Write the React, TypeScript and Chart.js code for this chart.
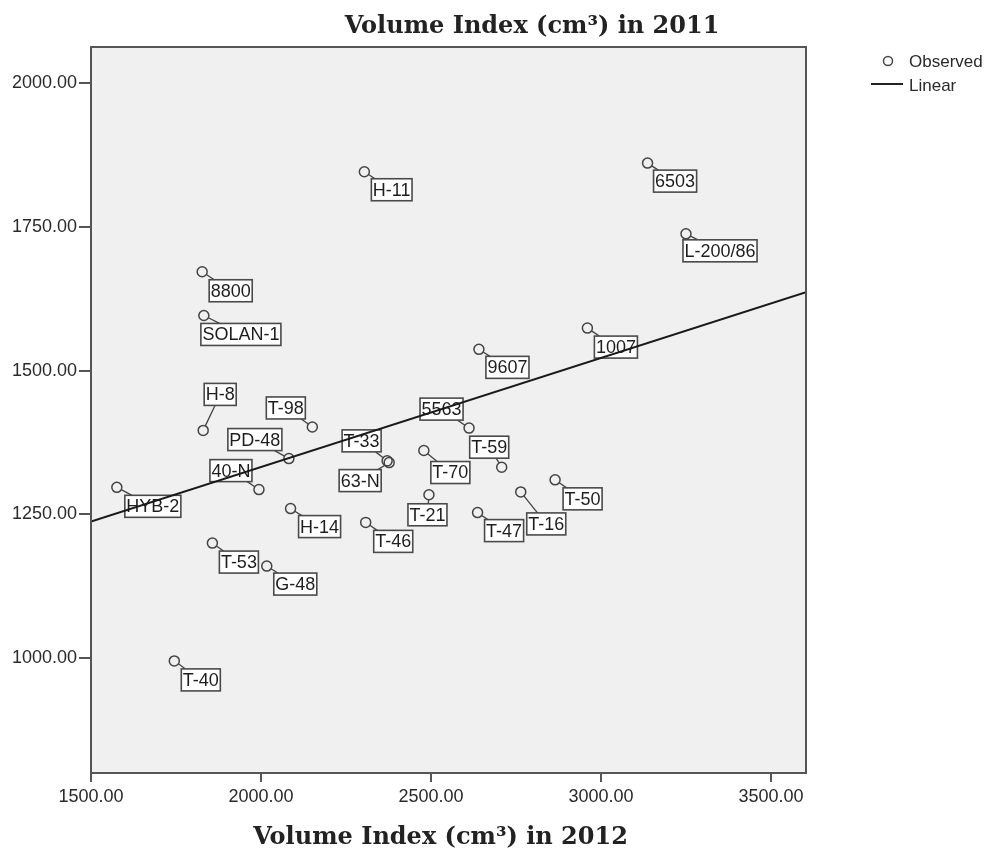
import React, { useEffect, useRef } from 'react';
import { Chart, registerables } from 'chart.js';

Chart.register(...registerables);

// ---- data ----
const varieties = [
  'H-11', '6503', 'L-200/86', '8800', 'SOLAN-1', '1007', '9607', 'H-8', 'T-98', 'PD-48',
  '40-N', 'HYB-2', 'T-33', '63-N', 'T-70', '5563', 'T-59', 'T-21', 'T-46', 'T-47',
  'T-16', 'T-50', 'H-14', 'T-53', 'G-48', 'T-40',
];
const volume2012 = [
  2304, 3137, 3250, 1827, 1832, 2960, 2641, 1830, 2151, 2082,
  1994, 1576, 2371, 2377, 2479, 2612, 2708, 2494, 2308, 2637,
  2764, 2865, 2087, 1857, 2017, 1745,
];
const volume2011 = [
  1846, 1861, 1738, 1672, 1596, 1574, 1537, 1396, 1402, 1347,
  1293, 1297, 1343, 1340, 1361, 1400, 1332, 1284, 1236, 1253,
  1289, 1310, 1260, 1200, 1160, 995,
];
// fitted linear line (ends)
const linearX = [1500, 3603];
const linearY = [1237.6, 1636.5];

const xTicks = [1500, 2000, 2500, 3000, 3500];
const yTicks = [1000, 1250, 1500, 1750, 2000];
const xRange = [1500, 3603];
const yRange = [800, 2063];

const xTitle = 'Volume Index (cm\u00B3) in 2012';
const yTitle = 'Volume Index (cm\u00B3) in 2011';
const legendLabels = ['Observed', 'Linear'];

// label box placement relative to its point: [dx, dy, dxIsRightEdge]
const labelPlacement: [number, number, boolean][] = [
  [7, 7, false], [6, 7, false], [-3, 6, false], [7, 8, false], [-3, 8, false],
  [7, 8, false], [7, 7, false], [1, -47, false], [-7, -30, true], [-7, -30, true],
  [-7, -30, true], [8, 8, false], [-6, -31, true], [-8, 7, true], [7, 11, false],
  [-6, -30, true], [7, -31, true], [-21, 9, false], [8, 8, false], [7, 7, false],
  [6, 21, false], [8, 8, false], [8, 7, false], [7, 8, false], [7, 7, false],
  [7, 8, false],
];

const sans = '"Liberation Sans", Arial, sans-serif';
const serif = '"DejaVu Serif", serif';

const decorPlugin = {
  id: 'spssDecor',
  beforeDraw(chart: any) {
    const { ctx, chartArea: a } = chart;
    ctx.save();
    ctx.fillStyle = '#f0f0f0';
    ctx.fillRect(a.left, a.top, a.right - a.left, a.bottom - a.top);
    ctx.restore();
  },
  afterDatasetDraw(chart: any, args: any) {
    if (args.index !== 1) return;
    const { ctx } = chart;
    const meta = chart.getDatasetMeta(1);
    ctx.save();
    ctx.font = `18px ${sans}`;
    meta.data.forEach((el: any, i: number) => {
      const px = el.x;
      const py = el.y;
      const text = varieties[i];
      const tw = ctx.measureText(text).width;
      const w = tw + 3;
      const h = 22;
      const [dx, dy, right] = labelPlacement[i];
      const left = right ? px + dx - w : px + dx;
      const top = py + dy;
      const cx = left + w / 2;
      const cy = top + h / 2;
      const vx = cx - px;
      const vy = cy - py;
      const tx = vx !== 0 ? ((vx > 0 ? left : left + w) - px) / vx : -Infinity;
      const ty = vy !== 0 ? ((vy > 0 ? top : top + h) - py) / vy : -Infinity;
      const t = Math.max(tx, ty);
      const len = Math.hypot(vx, vy);
      const r = 5;
      if (t > 0 && t * len > r + 0.5) {
        ctx.beginPath();
        ctx.moveTo(px + (vx / len) * r, py + (vy / len) * r);
        ctx.lineTo(px + vx * t, py + vy * t);
        ctx.strokeStyle = '#444';
        ctx.lineWidth = 1.3;
        ctx.stroke();
      }
      ctx.fillStyle = '#ffffff';
      ctx.fillRect(left, top, w, h);
      ctx.strokeStyle = '#4a4a4a';
      ctx.lineWidth = 1.6;
      ctx.strokeRect(left, top, w, h);
      ctx.fillStyle = '#1e1e1e';
      ctx.textAlign = 'left';
      ctx.textBaseline = 'middle';
      ctx.fillText(text, left + 1.5, top + h / 2 + 1);
    });
    ctx.restore();
  },
  afterDraw(chart: any) {
    const { ctx, chartArea: a } = chart;
    ctx.save();
    // frame
    ctx.strokeStyle = '#555';
    ctx.lineWidth = 2;
    ctx.strokeRect(a.left, a.top, a.right - a.left, a.bottom - a.top);
    // titles
    ctx.fillStyle = '#222';
    ctx.font = `bold 24px ${serif}`;
    ctx.textAlign = 'center';
    ctx.textBaseline = 'alphabetic';
    ctx.fillText(yTitle, a.left + 441, 33);
    ctx.fillText(xTitle, (a.left + a.right) / 2 - 8, 844);
    // legend
    ctx.font = `17px ${sans}`;
    ctx.textAlign = 'left';
    ctx.fillStyle = '#2a2a2a';
    ctx.beginPath();
    ctx.arc(888, 61, 4.5, 0, Math.PI * 2);
    ctx.strokeStyle = '#444';
    ctx.lineWidth = 1.5;
    ctx.stroke();
    ctx.fillText(legendLabels[0], 909, 67);
    ctx.beginPath();
    ctx.moveTo(871, 84);
    ctx.lineTo(903, 84);
    ctx.strokeStyle = '#222';
    ctx.lineWidth = 2;
    ctx.stroke();
    ctx.fillText(legendLabels[1], 909, 91);
    ctx.restore();
  },
};

export default function App() {
  const canvasRef = useRef<HTMLCanvasElement | null>(null);

  useEffect(() => {
    document.body.style.margin = '0';
    const canvas = canvasRef.current;
    if (!canvas) return;
    const chart = new Chart(canvas, {
      type: 'scatter',
      data: {
        datasets: [
          {
            label: legendLabels[1],
            data: linearX.map((x, i) => ({ x, y: linearY[i] })),
            showLine: true,
            borderColor: '#1a1a1a',
            borderWidth: 2,
            pointRadius: 0,
            fill: false,
          },
          {
            label: legendLabels[0],
            data: volume2012.map((x, i) => ({ x, y: volume2011[i] })),
            pointRadius: 5,
            pointBorderWidth: 1.5,
            borderColor: '#444',
            backgroundColor: 'rgba(0,0,0,0)',
            showLine: false,
          },
        ],
      },
      options: {
        responsive: false,
        animation: false,
        events: [],
        layout: { padding: { top: 47, right: 191, bottom: 0, left: 0 } },
        plugins: {
          legend: { display: false },
          title: { display: false },
          tooltip: { enabled: false },
        },
        scales: {
          x: {
            type: 'linear',
            min: xRange[0],
            max: xRange[1],
            afterBuildTicks: (scale: any) => {
              scale.ticks = xTicks.map((v) => ({ value: v }));
            },
            afterFit: (scale: any) => {
              scale.height = 79;
            },
            ticks: {
              callback: (v: any) => Number(v).toFixed(2),
              font: { family: sans, size: 18 },
              color: '#2a2a2a',
              padding: 4,
              maxRotation: 0,
            },
            grid: { drawOnChartArea: false, drawTicks: true, tickLength: 9, color: '#555', lineWidth: 2 },
            border: { display: true, color: '#555', width: 2 },
          },
          y: {
            type: 'linear',
            min: yRange[0],
            max: yRange[1],
            afterBuildTicks: (scale: any) => {
              scale.ticks = yTicks.map((v) => ({ value: v }));
            },
            afterFit: (scale: any) => {
              scale.width = 91;
            },
            ticks: {
              callback: (v: any) => Number(v).toFixed(2),
              font: { family: sans, size: 18 },
              color: '#2a2a2a',
              padding: 2,
            },
            grid: { drawOnChartArea: false, drawTicks: true, tickLength: 12, color: '#555', lineWidth: 2 },
            border: { display: true, color: '#555', width: 2 },
          },
        },
      },
      plugins: [decorPlugin],
    });
    return () => chart.destroy();
  }, []);

  return (
    <div style={{ width: 997, height: 852 }}>
      <canvas ref={canvasRef} width={997} height={852} style={{ display: 'block' }} />
    </div>
  );
}
